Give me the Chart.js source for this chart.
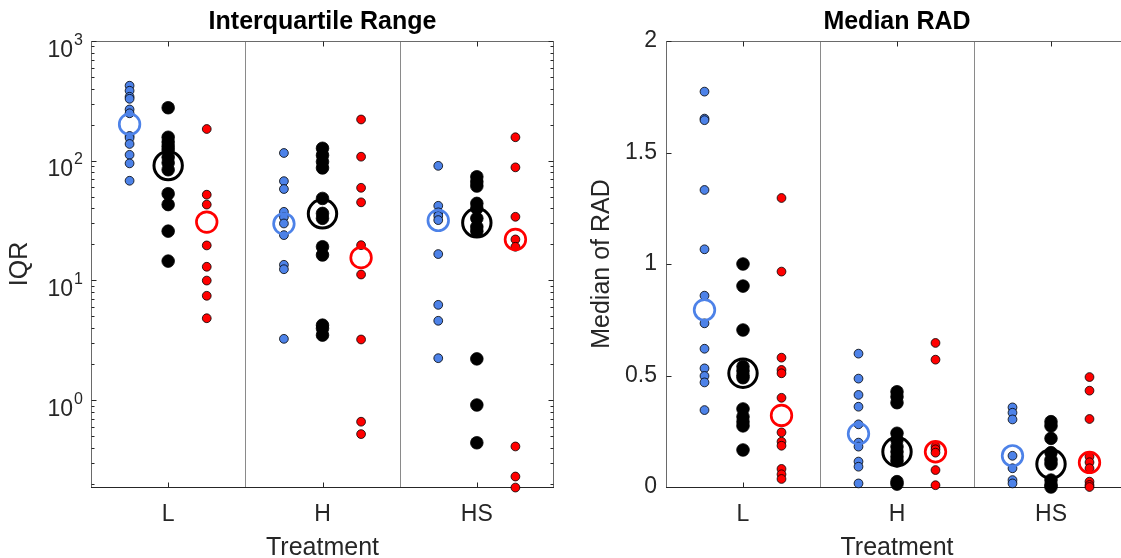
<!DOCTYPE html>
<html>
<head>
<meta charset="utf-8">
<script src="https://cdn.jsdelivr.net/npm/chart.js@4.4.0/dist/chart.umd.min.js"></script>
<style>
  html, body { margin: 0; padding: 0; background: #fff; overflow: hidden; }
  #wrap { position: relative; width: 1121px; height: 558px; overflow: hidden; }
  #iqrChart { position: absolute; left: 0; top: 0; }
  #radChart { position: absolute; left: 560px; top: 0; }
</style>
</head>
<body>
<div id="wrap">
  <canvas id="iqrChart" width="560" height="558"></canvas>
  <canvas id="radChart" width="580" height="558"></canvas>
</div>
<script>
const treatments = ['L', 'H', 'HS'];

// IQR per subject, one inner array per treatment (L, H, HS)
const iqrBlue = [
  [423, 384, 342, 329, 268, 249, 161, 155, 138, 112, 95, 68],
  [116, 67.5, 58, 37.4, 33.8, 29.9, 23.9, 13.5, 12.4, 3.25],
  [90.6, 42, 37, 34.6, 31.9, 16.6, 6.25, 4.6, 2.24]
];
const iqrBlack = [
  [277, 157, 143, 132, 123, 107, 96, 84, 53, 43, 25.8, 14.5],
  [127, 111, 98, 87, 48.4, 36.3, 33, 19.1, 16.3, 4.23, 3.97, 3.49],
  [73.4, 66.6, 61.4, 44, 40, 33, 28, 25.8, 2.21, 0.91, 0.44]
];
const iqrRed = [
  [184, 52, 43, 19.6, 13.0, 9.97, 7.44, 4.83],
  [221, 108, 59.4, 44.9, 19.7, 11.2, 3.21, 0.66, 0.52],
  [157, 88, 34, 22, 19.1, 0.41, 0.23, 0.186]
];
// group summaries (open circles)
const iqrBlueMid = [202, 29.7, 31.7];
const iqrBlackMid = [91, 36, 30.3];
const iqrRedMid = [30.7, 15.5, 22];
const iqrTicks = [1, 10, 100, 1000];

// median RAD per subject
const radBlue = [
  [1.773, 1.652, 1.645, 1.332, 1.066, 0.858, 0.734, 0.62, 0.532, 0.498, 0.469, 0.345],
  [0.598, 0.486, 0.413, 0.36, 0.281, 0.199, 0.181, 0.114, 0.091, 0.016],
  [0.357, 0.333, 0.303, 0.14, 0.084, 0.031, 0.016]
];
const radBlack = [
  [1.0, 0.901, 0.704, 0.54, 0.52, 0.50, 0.49, 0.35, 0.315, 0.293, 0.274, 0.166],
  [0.427, 0.405, 0.378, 0.241, 0.211, 0.181, 0.158, 0.136, 0.117, 0.024, 0.013],
  [0.293, 0.274, 0.218, 0.154, 0.121, 0.103, 0.031, 0.009, 0.0]
];
const radRed = [
  [1.296, 0.966, 0.58, 0.525, 0.51, 0.40, 0.245, 0.203, 0.185, 0.081, 0.057, 0.036],
  [0.646, 0.571, 0.181, 0.169, 0.154, 0.076, 0.008],
  [0.493, 0.432, 0.305, 0.136, 0.111, 0.084, 0.024, 0.009, 0.0]
];
const radBlueMid = [0.794, 0.239, 0.14];
const radBlackMid = [0.51, 0.158, 0.103];
const radRedMid = [0.321, 0.158, 0.11];
const radTicks = [0, 0.5, 1, 1.5, 2];

const BLUE = '#4d82e8';
const RED = '#ff0000';
const INK = '#262626';

Chart.defaults.font.family = "'Liberation Sans', Arial, sans-serif";

function spread(groups, shift) {
  return groups.flatMap((vals, i) => vals.map(v => ({ x: i + 1 + shift, y: v })));
}

function mids(vals, shift) {
  return vals.map((v, i) => ({ x: i + 1 + shift, y: v }));
}

function dots(groups, shift, fill, r) {
  return {
    data: spread(groups, shift),
    pointRadius: r,
    pointBackgroundColor: fill,
    pointBorderColor: '#000',
    pointBorderWidth: 0.8,
    order: 2,
    clip: false
  };
}

function ring(vals, shift, color, r, w) {
  return {
    data: mids(vals, shift),
    pointRadius: r,
    pointBackgroundColor: 'rgba(0,0,0,0)',
    pointBorderColor: color,
    pointBorderWidth: w,
    order: 1,
    clip: false
  };
}

// box, group separators and inward tick marks, drawn under the points
const axesFrame = {
  id: 'axesFrame',
  beforeDatasetsDraw(chart, args, opts) {
    const { ctx, chartArea: a, scales: { x, y } } = chart;
    const L = Math.round(a.left) + 0.5, R = Math.round(a.right) - 0.5;
    const T = Math.round(a.top) + 0.5, B = Math.round(a.bottom) + 0.5;
    ctx.save();
    ctx.lineWidth = 1;

    ctx.strokeStyle = '#8a8a8a';
    ctx.beginPath();
    for (let i = 1; i < treatments.length; i++) {
      const px = Math.round(x.getPixelForValue(i + 0.5)) + 0.5;
      ctx.moveTo(px, T);
      ctx.lineTo(px, B);
    }
    ctx.stroke();

    ctx.strokeStyle = '#6a6a6a';
    ctx.beginPath();
    ctx.moveTo(L, B); ctx.lineTo(L, T); ctx.lineTo(R, T); ctx.lineTo(R, B);
    ctx.stroke();
    ctx.strokeStyle = INK;
    ctx.beginPath();
    ctx.moveTo(L - 0.5, B); ctx.lineTo(R + 0.5, B);
    ctx.stroke();

    ctx.strokeStyle = INK;
    ctx.beginPath();
    x.ticks.forEach(t => {
      const px = Math.round(x.getPixelForValue(t.value)) + 0.5;
      ctx.moveTo(px, B); ctx.lineTo(px, B - 5);
      ctx.moveTo(px, T); ctx.lineTo(px, T + 5);
    });
    const yTick = (v, len) => {
      const py = Math.round(y.getPixelForValue(v)) + 0.5;
      ctx.moveTo(L, py); ctx.lineTo(L + len, py);
      ctx.moveTo(R, py); ctx.lineTo(R - len, py);
    };
    y.ticks.forEach(t => yTick(t.value, 5));
    if (opts.logMinor) {
      for (let e = -1; e < 3; e++) {
        for (let m = 2; m <= 9; m++) {
          const v = m * Math.pow(10, e);
          if (v >= y.min && v <= y.max) yTick(v, 3);
        }
      }
    }
    ctx.stroke();
    ctx.restore();
  },
  afterDraw(chart, args, opts) {
    if (!opts.logLabels) return;
    const { ctx, chartArea: a, scales: { y } } = chart;
    ctx.save();
    ctx.fillStyle = INK;
    ctx.textBaseline = 'alphabetic';
    ctx.textAlign = 'right';
    const right = a.left - 8;
    y.ticks.forEach(t => {
      const py = y.getPixelForValue(t.value);
      const exp = String(Math.round(Math.log10(t.value)));
      ctx.font = "16px 'Liberation Sans', Arial, sans-serif";
      const ew = ctx.measureText(exp).width;
      ctx.fillText(exp, right, py + 3.5);
      ctx.font = "23px 'Liberation Sans', Arial, sans-serif";
      ctx.fillText('10', right - ew - 1, py + 15.7);
    });
    ctx.restore();
  }
};

function xScale() {
  return {
    type: 'linear',
    min: 0.5,
    max: 3.5,
    bounds: 'data',
    afterBuildTicks: s => { s.ticks = treatments.map((t, i) => ({ value: i + 1 })); },
    afterFit: s => {
      s.height = 71;
      s.paddingLeft = 0;
      s.paddingRight = 0;
    },
    ticks: {
      callback: (v, i) => treatments[i],
      font: { size: 23 },
      color: INK,
      padding: 14,
      maxRotation: 0,
      autoSkip: false
    },
    grid: { display: false, drawTicks: false },
    border: { display: false },
    title: {
      display: true,
      text: 'Treatment',
      font: { size: 25, lineHeight: 0.78 },
      color: INK,
      padding: { top: 0, bottom: 0 }
    }
  };
}

function titleOpts(text) {
  return {
    display: true,
    text: text,
    fullSize: false,
    color: '#000',
    font: { size: 25, weight: 'bold', lineHeight: 1 },
    padding: { top: 10, bottom: 6 }
  };
}

const common = {
  responsive: false,
  devicePixelRatio: 1,
  animation: false,
  events: []
};

new Chart(document.getElementById('iqrChart'), {
  type: 'scatter',
  data: {
    datasets: [
      ring(iqrBlueMid, -0.25, BLUE, 10.3, 2.7),
      ring(iqrBlackMid, 0, '#000', 14.2, 3),
      ring(iqrRedMid, 0.25, RED, 10.3, 2.7),
      dots(iqrBlue, -0.25, BLUE, 4.4),
      dots(iqrBlack, 0, '#000', 6.3),
      dots(iqrRed, 0.25, RED, 4.4)
    ]
  },
  options: {
    ...common,
    layout: { autoPadding: false, padding: { left: 0, right: 6, top: 0, bottom: 0 } },
    scales: {
      x: xScale(),
      y: {
        type: 'logarithmic',
        min: 0.188,
        max: 1000,
        bounds: 'data',
        afterBuildTicks: s => { s.ticks = iqrTicks.map(v => ({ value: v, major: true })); },
        afterFit: s => { s.width = 91; },
        ticks: { display: false },
        grid: { display: false },
        border: { display: false },
        title: {
          display: true,
          text: 'IQR',
          font: { size: 25, lineHeight: 1 },
          color: INK,
          padding: { top: 7.5, bottom: 0 }
        }
      }
    },
    plugins: {
      legend: { display: false },
      tooltip: { enabled: false },
      title: titleOpts('Interquartile Range'),
      axesFrame: { logMinor: true, logLabels: true }
    }
  },
  plugins: [axesFrame]
});

new Chart(document.getElementById('radChart'), {
  type: 'scatter',
  data: {
    datasets: [
      ring(radBlueMid, -0.25, BLUE, 10.3, 2.7),
      ring(radBlackMid, 0, '#000', 14.2, 3),
      ring(radRedMid, 0.25, RED, 10.3, 2.7),
      dots(radBlue, -0.25, BLUE, 4.4),
      dots(radBlack, 0, '#000', 6.3),
      dots(radRed, 0.25, RED, 4.4)
    ]
  },
  options: {
    ...common,
    layout: { autoPadding: false, padding: { left: 0, right: 12, top: 0, bottom: 0 } },
    scales: {
      x: xScale(),
      y: {
        type: 'linear',
        min: 0,
        max: 2,
        bounds: 'data',
        afterBuildTicks: s => { s.ticks = radTicks.map(v => ({ value: v })); },
        afterFit: s => { s.width = 106; },
        ticks: {
          callback: v => String(v),
          font: { size: 23 },
          color: INK,
          padding: 9
        },
        grid: { display: false, drawTicks: false },
        border: { display: false },
        title: {
          display: true,
          text: 'Median of RAD',
          font: { size: 25, lineHeight: 1 },
          color: INK,
          padding: { top: 29.5, bottom: 0 }
        }
      }
    },
    plugins: {
      legend: { display: false },
      tooltip: { enabled: false },
      title: titleOpts('Median RAD'),
      axesFrame: { logMinor: false, logLabels: false }
    }
  },
  plugins: [axesFrame]
});
</script>
</body>
</html>
